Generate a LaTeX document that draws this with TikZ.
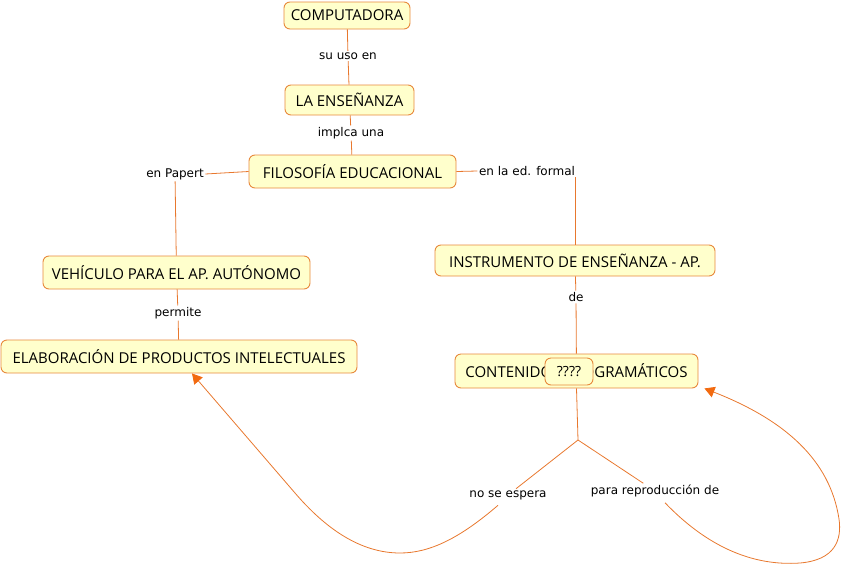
\documentclass[tikz,border=0pt]{standalone}
\usepackage{fontspec}
\usepackage{tikz}
\setmainfont{DejaVu Sans}
\newfontfamily\conceptfont{Open Sans}
\usetikzlibrary{arrows.meta}
\usetikzlibrary{positioning}
\definecolor{mapfill}{HTML}{FFFFCC}
\definecolor{mapedge}{HTML}{E8893C}
\definecolor{mapline}{HTML}{E8782E}
\definecolor{maptip}{HTML}{F26A10}
\tikzset{concept/.style = {draw = mapedge, fill = mapfill, rounded corners = 6,
                           line width = 0.9, inner sep = 0,
                           font = \conceptfont\fontsize{15}{17}\selectfont}}
\tikzset{lbl/.style = {inner sep = 1.5, font = \fontsize{12}{14}\selectfont}}
\tikzset{link/.style = {draw = mapline, line width = 0.8}}
\tikzset{tip/.style = {link, -{Triangle[length = 10pt, width = 11pt, color = maptip]}}}

\begin{document}
\begin{tikzpicture}[x = 1pt, y = -1pt]
    \useasboundingbox (0, 0) rectangle (843, 568);
    \node [concept, minimum width = 126, minimum height = 27] (comp) at (347, 15.5) {COMPUTADORA};
    \node [lbl] (uso) at (348, 56) {su uso en};
    \node [concept, minimum width = 129, minimum height = 30] (ensen) at (349.5, 100) {LA ENSEÑANZA};
    \node [lbl] (implica) at (351, 133) {implca una};
    \node [concept, minimum width = 207, minimum height = 33] (filo) at (352.5, 171.5) {FILOSOFÍA EDUCACIONAL};
    \node [lbl] (papert) at (175, 174) {en Papert};
    \node [lbl] (formal) at (527, 171) {en la ed. formal};
    \node [concept, minimum width = 267, minimum height = 33] (vehic) at (176.5, 272.5) {VEHÍCULO PARA EL AP. AUTÓNOMO};
    \node [lbl] (permite) at (178, 313) {permite};
    \node [concept, minimum width = 356, minimum height = 33] (elab) at (179, 356.5) {ELABORACIÓN DE PRODUCTOS INTELECTUALES};
    \node [concept, minimum width = 280, minimum height = 31] (instr) at (575, 260.5) {INSTRUMENTO DE ENSEÑANZA - AP.};
    \node [lbl] (de) at (576, 297) {de};
    \node [concept, minimum width = 243, minimum height = 34] (cont) at (576.5, 371) {CONTENIDOS PROGRAMÁTICOS};
    \node [concept, minimum width = 48, minimum height = 27] (duda) at (569, 371.5) {\fontsize{14}{16}\selectfont ????};
    \node [lbl] (noesp) at (508, 495) {no se espera};
    \node [lbl] (repro) at (655, 491) {para reproducción de};
    \coordinate (fork) at (578, 440);

    \draw [link] (comp) -- (uso);
    \draw [link] (uso) -- (ensen);
    \draw [link] (ensen) -- (implica);
    \draw [link] (implica) -- (filo);
    \draw [link] (filo.west) -- (papert.east);
    \draw [link] (papert) -- (vehic);
    \draw [link] (vehic) -- (permite);
    \draw [link] (permite) -- (elab);
    \draw [link] (filo.east) -- (formal.west);
    \draw [link] (formal.south -| instr.north) -- (instr.north);
    \draw [link] (instr) -- (de);
    \draw [link] (de) -- (cont);
    \draw [link] (cont.south) -- (fork);
    \draw [link] (fork) -- (noesp);
    \draw [link] (fork) -- (repro);
    \draw [tip] ([xshift = -10, yshift = -4]noesp.south) .. controls (460, 538) and (430, 553) .. (400, 553)
        .. controls (360, 553) and (325, 528) .. (295, 493) -- ([xshift = 13]elab.south);
    \draw [tip] ([xshift = 10, yshift = -4]repro.south) .. controls (720, 560) and (770, 565) .. (800, 563)
        .. controls (835, 560) and (842, 540) .. (839, 519)
        .. controls (830, 460) and (785, 420) .. ([xshift = 6]cont.south east);
  \end{tikzpicture}
\end{document}
